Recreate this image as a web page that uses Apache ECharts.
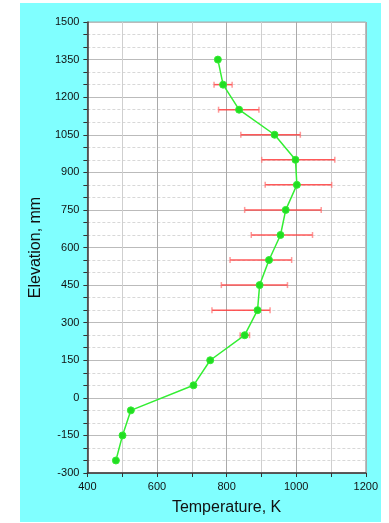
<!DOCTYPE html>
<html><head><meta charset="utf-8">
<script src="https://cdn.jsdelivr.net/npm/echarts@6/dist/echarts.min.js"></script>
<style>
html,body{margin:0;padding:0;background:#fff;width:389px;height:523px;overflow:hidden}
#c{position:absolute;left:20px;top:3px;width:361px;height:519px;background:#80ffff}
</style></head><body>
<div id="c"></div>
<script>
var temperature = [775, 790, 836, 938, 998, 1002, 970, 955, 922, 895, 889, 852, 753, 705, 525, 501, 482];
var elevation = [1350, 1250, 1150, 1050, 950, 850, 750, 650, 550, 450, 350, 250, 150, 50, -50, -150, -250];
var errElevation = [1250, 1150, 1050, 950, 850, 750, 650, 550, 450, 350, 250];
var errLow = [764, 777, 841, 901, 911, 852, 871, 810, 785, 758, 839];
var errHigh = [816, 893, 1012, 1111, 1102, 1072, 1047, 987, 975, 925, 866];

var lineData = temperature.map(function(t, i){ return [t, elevation[i]]; });
var errData = errElevation.map(function(e, i){ return [errLow[i], errHigh[i], e]; });

var font = 'Liberation Sans, Arial, sans-serif';
var plain = function(v){ return String(v); };
var chart = echarts.init(document.getElementById('c'), null, {renderer:'canvas'});
chart.setOption({
  animation:false,
  backgroundColor:'transparent',
  grid:{left:65, top:19, right:15, bottom:49, show:true, backgroundColor:'#fff', borderColor:'#aaa', borderWidth:1},
  xAxis:{
    type:'value', min:400, max:1200, interval:200,
    name:'Temperature, K', nameLocation:'middle', nameGap:27,
    nameTextStyle:{fontFamily:font, fontSize:16, color:'#111'},
    axisLine:{show:true, onZero:false, lineStyle:{color:'#333', width:1.5}},
    axisTick:{show:true, length:4, lineStyle:{color:'#333'}},
    minorTick:{show:true, splitNumber:2, length:4, lineStyle:{color:'#333'}},
    axisLabel:{fontFamily:font, fontSize:11, color:'#111', margin:8, formatter:plain},
    splitLine:{show:true, lineStyle:{color:'#aaa', width:1}},
    minorSplitLine:{show:true, lineStyle:{color:'#cfcfcf', width:1}}
  },
  yAxis:{
    type:'value', min:-300, max:1500, interval:150,
    name:'Elevation, mm', nameLocation:'middle', nameGap:40, nameRotate:90,
    nameTextStyle:{fontFamily:font, fontSize:16, color:'#111'},
    axisLine:{show:true, onZero:false, lineStyle:{color:'#333', width:1.5}},
    axisTick:{show:true, length:4, lineStyle:{color:'#333'}},
    minorTick:{show:true, splitNumber:3, length:4, lineStyle:{color:'#333'}},
    axisLabel:{fontFamily:font, fontSize:11, color:'#111', margin:8, formatter:plain},
    splitLine:{show:true, lineStyle:{color:'#bbb', width:1}},
    minorSplitLine:{show:true, lineStyle:{color:'#d8d8d8', width:1, type:[3,2]}}
  },
  series:[
    {
      type:'custom',
      data:errData,
      encode:{x:[0,1], y:2},
      z:2,
      renderItem:function(params, api){
        var y = api.value(2);
        var p1 = api.coord([api.value(0), y]);
        var p2 = api.coord([api.value(1), y]);
        var h = 3;
        var st = {stroke:'rgba(255,60,60,0.85)', lineWidth:1.5};
        var cs = {stroke:'rgba(255,110,110,0.7)', lineWidth:1.5};
        return {type:'group', children:[
          {type:'line', shape:{x1:p1[0], y1:p1[1], x2:p2[0], y2:p2[1]}, style:st},
          {type:'line', shape:{x1:p1[0], y1:p1[1]-h, x2:p1[0], y2:p1[1]+h}, style:cs},
          {type:'line', shape:{x1:p2[0], y1:p2[1]-h, x2:p2[0], y2:p2[1]+h}, style:cs}
        ]};
      }
    },
    {
      type:'line',
      data:lineData,
      z:3,
      symbol:'circle', symbolSize:7,
      lineStyle:{color:'#33ee33', width:1.5},
      itemStyle:{color:'#22dd22', borderColor:'#33ee33', borderWidth:1}
    }
  ]
});
</script>
</body></html>
